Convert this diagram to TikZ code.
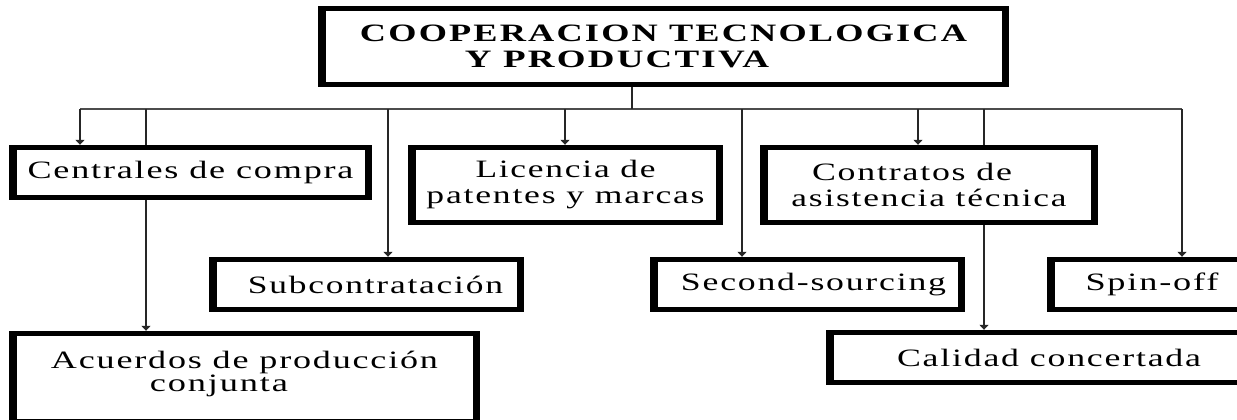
\documentclass[tikz,border=0pt]{standalone}
\usepackage{fontspec}
\usepackage{graphicx}
\setmainfont{Liberation Serif}[LetterSpace=5]
\newfontfamily\titlefont{Liberation Serif}[LetterSpace=6]
\newcommand\fitw[2]{\resizebox{#1pt}{\height}{#2}}
\usetikzlibrary{arrows.meta}
\tikzset{
  framebox/.style={rectangle, fill=black, inner sep=0pt, align=center,
    font=\fontsize{25}{26}\selectfont,
    path picture={\fill[white] ([xshift=7.5pt,yshift=5pt]path picture bounding box.south west)
      rectangle ([xshift=-7.5pt,yshift=-5pt]path picture bounding box.north east);}},
  txt/.style={inner sep=0pt, font=\fontsize{25}{23}\selectfont},
  conn/.style={line width=1.5pt, draw=black!85},
  busline/.style={line width=1.5pt, draw=black!70},
  arr/.style={conn, -{Triangle[length=5pt,width=9pt]}}
}
\begin{document}
\begin{tikzpicture}[x=1pt,y=-1pt]
\useasboundingbox (0,0) rectangle (1237,420);
\clip (0,0) rectangle (1237,420);
\fill[white] (0,0) rectangle (1237,420);

\node[framebox, minimum width=691pt, minimum height=81pt, align=left,
  font=\titlefont\bfseries\fontsize{25}{26}\selectfont] (title) at (663.5,46.5)
  {\fitw{607}{COOPERACION TECNOLOGICA}\\\hspace*{105pt}\fitw{304}{Y PRODUCTIVA}};

\node[framebox, minimum width=363pt, minimum height=55pt] (cent) at (190.5,172.5)
  {\fitw{326}{Centrales de compra}};
\node[framebox, minimum width=315pt, minimum height=80pt] (lic) at (565.5,185)
  {\fitw{180}{Licencia de}\\\fitw{278}{patentes y marcas}};
\node[framebox, minimum width=338pt, minimum height=80pt] (con) at (929,185)
  {\fitw{200}{Contratos de}\hspace*{34pt}\\\fitw{275}{asistencia técnica}};
\node[framebox, minimum width=315pt, minimum height=55pt] (sub) at (366.5,284.5)
  {\hspace*{18pt}\fitw{255}{Subcontratación}};
\node[framebox, minimum width=315pt, minimum height=55pt] (sec) at (807.5,284.5)
  {\hspace*{12pt}\fitw{265}{Second-sourcing}};
\node[framebox, minimum width=210pt, minimum height=55pt] (spin) at (1152,284.5)
  {\fitw{133}{Spin-off}};
\node[framebox, minimum width=446pt, minimum height=55pt] (cal) at (1049,357.5)
  {\fitw{304}{Calidad concertada}};
\node[framebox, minimum width=471pt, minimum height=93pt] (acu) at (244.5,377.5) {};
\node[txt, align=left, anchor=north] (acut) at ([yshift=-20pt]acu.north)
  {\fitw{387}{Acuerdos de producción}\\\hspace*{99pt}\fitw{138}{conjunta}};

\coordinate (bs) at (632,109);
\coordinate (b1) at (80,109);
\coordinate (b2) at (146,109);
\coordinate (b3) at (388,109);
\coordinate (b4) at (565,109);
\coordinate (b5) at (742,109);
\coordinate (b6) at (918,109);
\coordinate (b7) at (984,109);
\coordinate (b8) at (1182,109);

\draw[busline] (b1) -- (b8);
\draw[conn] (title.south -| bs) -- (bs);
\draw[arr] (b1) -- (b1 |- cent.north);
\draw[conn] (b2) -- (b2 |- cent.north);
\draw[arr] (b2 |- cent.south) -- (b2 |- acu.north);
\draw[arr] (b3) -- (b3 |- sub.north);
\draw[arr] (b4) -- (b4 |- lic.north);
\draw[arr] (b5) -- (b5 |- sec.north);
\draw[arr] (b6) -- (b6 |- con.north);
\draw[conn] (b7) -- (b7 |- con.north);
\draw[arr] (b7 |- con.south) -- (b7 |- cal.north);
\draw[arr] (b8) -- (b8 |- spin.north);
\end{tikzpicture}
\end{document}
